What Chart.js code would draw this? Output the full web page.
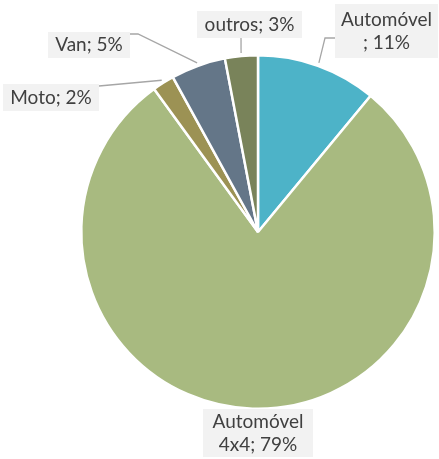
<!DOCTYPE html>
<html>
<head>
<meta charset="utf-8">
<script src="https://cdn.jsdelivr.net/npm/chart.js@4"></script>
<style>
  html, body { margin: 0; padding: 0; background: #ffffff; }
  canvas { display: block; }
</style>
</head>
<body>
<canvas id="pieChart" width="439" height="459"></canvas>
<script>
// chart data
const categories = ['Automóvel', 'Automóvel 4x4', 'Moto', 'Van', 'outros'];
const shares = [11, 79, 2, 5, 3];
const labelLines = [['Automóvel', '; 11%'], ['Automóvel', '4x4; 79%'], ['Moto; 2%'], ['Van; 5%'], ['outros; 3%']];
const sliceColors = ['#4db3c8', '#a8ba80', '#9c9254', '#647688', '#79835a'];

// label boxes: [left, top, width, height] and leader path points after the slice edge
const labelBoxes = [
  { box: [335, 4, 103, 54], path: [[325, 38], [335, 38]] },
  { box: [203, 409, 110, 48], path: null },
  { box: [3, 84, 96, 27], path: [[99, 86]] },
  { box: [48, 32, 82, 26], path: [[138, 34], [130, 34]] },
  { box: [197, 11, 105, 27], path: [[241, 38]] },
];

const calloutPlugin = {
  id: 'callouts',
  afterDraw(chart) {
    const ctx = chart.ctx;
    const arcs = chart.getDatasetMeta(0).data;
    ctx.save();
    arcs.forEach((arc, i) => {
      const cfg = labelBoxes[i];
      const mid = (arc.startAngle + arc.endAngle) / 2;
      const r = arc.outerRadius + 3;
      const sx = arc.x + Math.cos(mid) * r;
      const sy = arc.y + Math.sin(mid) * r;

      if (cfg.path) {
        ctx.beginPath();
        ctx.strokeStyle = '#a6a6a6';
        ctx.lineWidth = 1.3;
        ctx.moveTo(sx, sy);
        cfg.path.forEach((p) => ctx.lineTo(p[0], p[1]));
        ctx.stroke();
      }

      const [bx, by, bw, bh] = cfg.box;
      ctx.fillStyle = '#f2f2f2';
      ctx.fillRect(bx, by, bw, bh);

      ctx.fillStyle = '#404040';
      ctx.font = '19px Lato, "Open Sans", sans-serif';
      ctx.textAlign = 'center';
      ctx.textBaseline = 'middle';
      const lines = labelLines[i];
      const lineH = 23;
      const cy = by + bh / 2 - ((lines.length - 1) * lineH) / 2;
      lines.forEach((t, k) => {
        ctx.fillText(t, bx + bw / 2, cy + k * lineH);
      });
    });
    ctx.restore();
  },
};

const ctx = document.getElementById('pieChart');
const myChart = new Chart(ctx, {
  type: 'pie',
  data: {
    labels: categories,
    datasets: [
      {
        data: shares,
        backgroundColor: sliceColors,
        borderColor: '#ffffff',
        borderWidth: 2.5,
      },
    ],
  },
  options: {
    responsive: false,
    animation: false,
    layout: {
      padding: { left: 80, right: 3, top: 54, bottom: 49 },
    },
    plugins: {
      legend: { display: false },
      tooltip: { enabled: false },
    },
  },
  plugins: [calloutPlugin],
});
</script>
</body>
</html>
